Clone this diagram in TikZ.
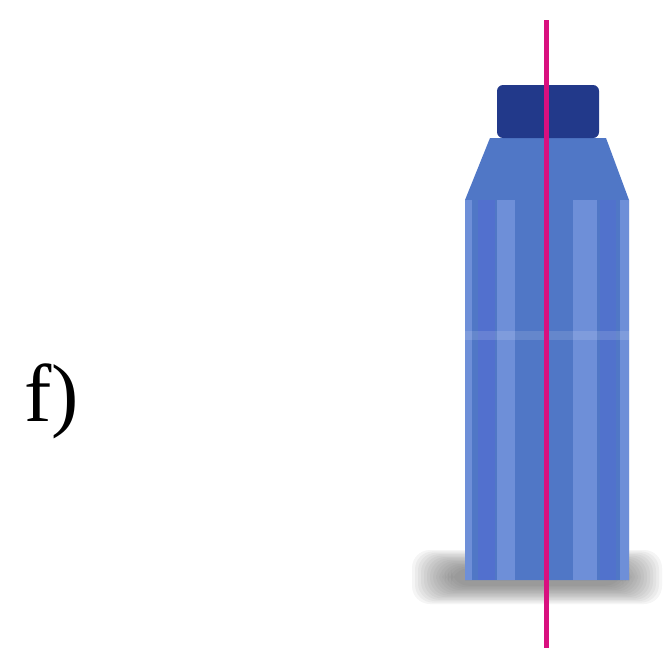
\documentclass[tikz,border=0pt]{standalone}
\usepackage{fontspec}
\setmainfont{Liberation Serif}
\definecolor{capblue}{HTML}{22398A}
\definecolor{bodyblue}{HTML}{5077C6}
\definecolor{lightblue}{HTML}{6E8FD8}
\definecolor{deepblue}{HTML}{5270CE}
\definecolor{axismagenta}{HTML}{D9107F}
\tikzset{
  stripe/.style={fill=#1, draw=none},
  shade ring/.style={fill=black!65, fill opacity=0.06, draw=none, rounded corners=18pt}
}
\begin{document}
\begin{tikzpicture}[x=1pt,y=-1pt]
\useasboundingbox[fill=white] (0,0) rectangle (664,648);

% label
\node[anchor=base west, inner sep=0pt, font=\fontsize{82}{90}\selectfont] (lbl) at (24,421) {f)};

% soft shadow under the bottle
\foreach \r in {0,...,13}
  \fill[shade ring] (412+3*\r,550+1.4*\r) rectangle (662-3*\r,604-1.4*\r);

% body and shoulder
\fill[bodyblue] (490,138) -- (606,138) -- (629,200) -- (629,580) -- (465,580) -- (465,200) -- cycle;
\fill[stripe=lightblue] (465,200) rectangle (472,580);
\fill[stripe=deepblue] (478,200) rectangle (495,580);
\fill[stripe=lightblue] (497,200) rectangle (515,580);
\fill[stripe=lightblue] (573,200) rectangle (597,580);
\fill[stripe=deepblue!70!bodyblue] (600,200) rectangle (616,580);
\fill[stripe=lightblue] (620,200) rectangle (629,580);
\fill[white, opacity=0.12] (465,331) rectangle (629,340);

% cap
\fill[capblue, rounded corners=6pt] (497,138) -- (497,85) -- (599,85) -- (599,138) -- cycle;

% axis through the bottle
\coordinate (top) at (546,20);
\coordinate (bot) at (546,648);
\draw[axismagenta, line width=5pt] (top) -- (bot);
\end{tikzpicture}
\end{document}
